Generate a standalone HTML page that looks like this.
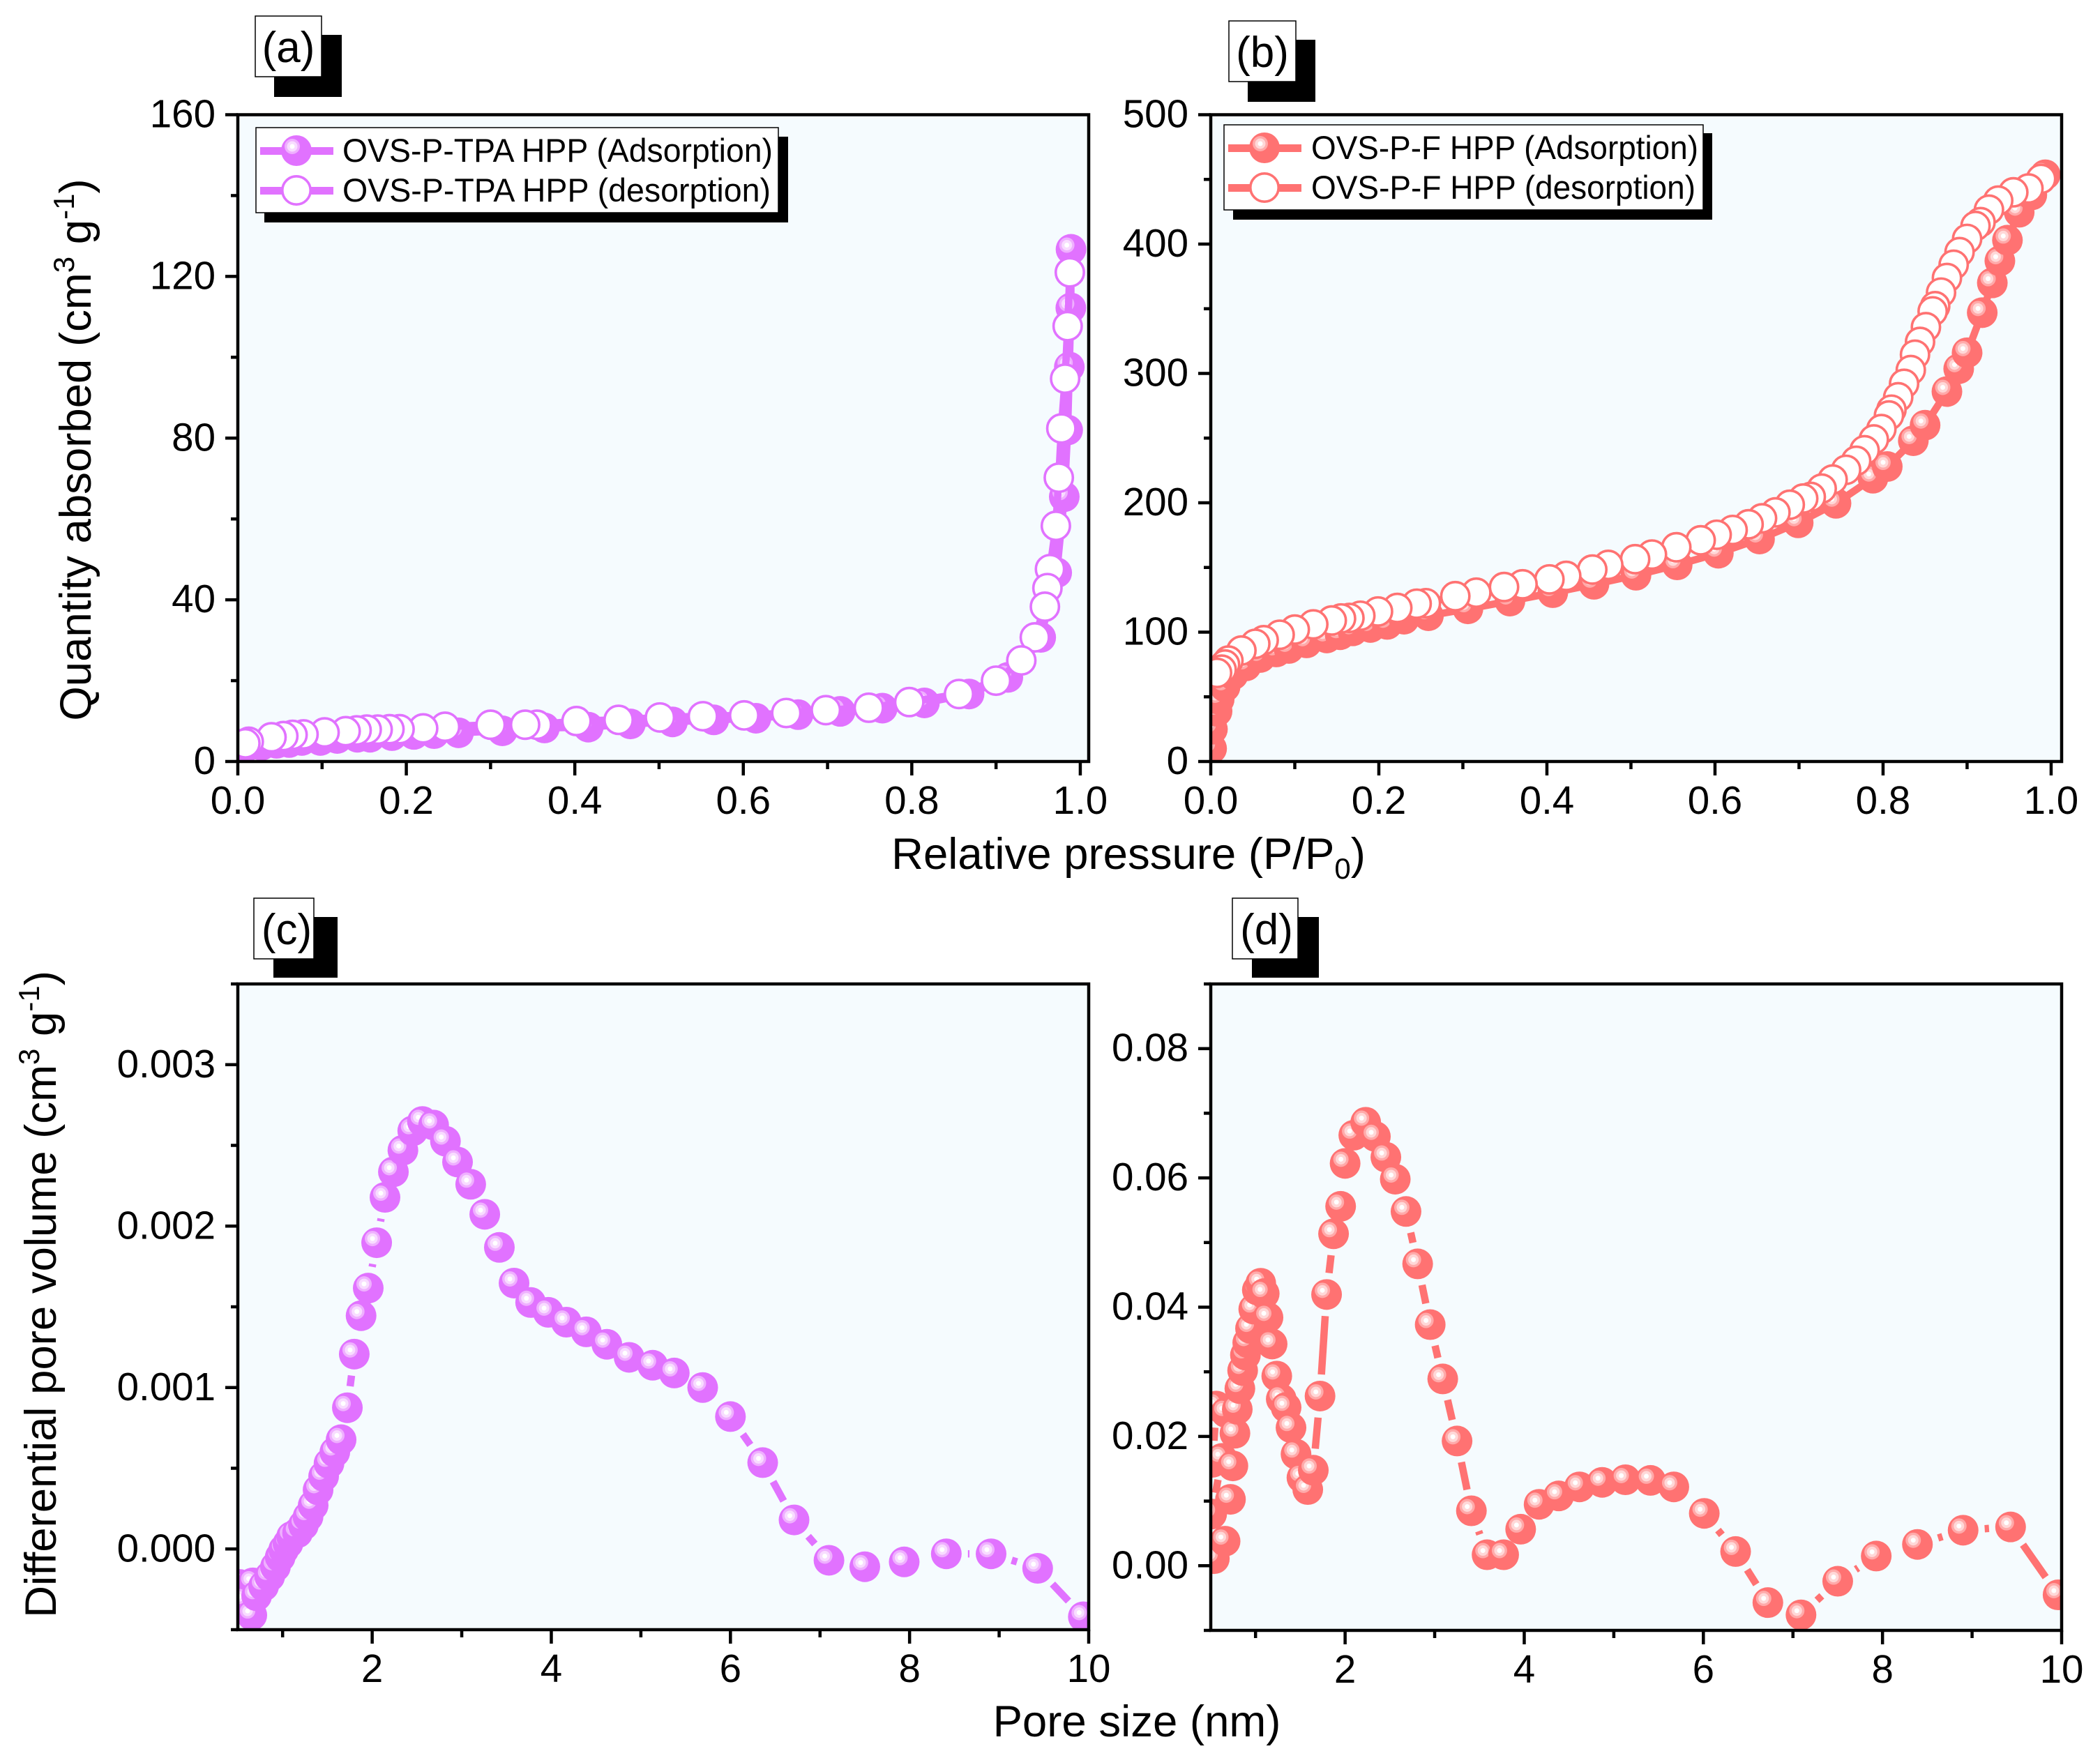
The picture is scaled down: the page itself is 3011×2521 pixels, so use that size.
<!DOCTYPE html>
<html lang="en">
<head>
<meta charset="utf-8">
<title>Gas sorption isotherms and pore size distributions</title>
<style>
html,body{margin:0;padding:0;background:#fff;width:3011px;height:2521px;overflow:hidden}
svg{display:block}
text{font-family:"Liberation Sans",Arial,sans-serif;fill:#000}
.tick{font-size:56.5px}
.title{font-size:63.5px}
.leg{font-size:47px}
.tag{font-size:62px}
</style>
</head>
<body>
<svg id="figure" xmlns="http://www.w3.org/2000/svg" width="3011" height="2521" viewBox="0 0 3011 2521">
  <rect x="0" y="0" width="3011" height="2521" fill="#fff"/>
  <g id="panels"></g>

  <g>
    <rect x="393" y="50" width="97" height="89" fill="#000"/>
    <rect x="366" y="23" width="95" height="87" fill="#fff" stroke="#000" stroke-width="1.5"/>
    <text class="tag" x="413.5" y="89" text-anchor="middle">(a)</text>
  </g>
  <g>
    <rect x="1789" y="57" width="97" height="89" fill="#000"/>
    <rect x="1762" y="30" width="96" height="87" fill="#fff" stroke="#000" stroke-width="1.5"/>
    <text class="tag" x="1810" y="96" text-anchor="middle">(b)</text>
  </g>
  <g>
    <rect x="392" y="1315" width="92" height="87" fill="#000"/>
    <rect x="364" y="1288" width="86" height="87" fill="#fff" stroke="#000" stroke-width="1.5"/>
    <text class="tag" x="411" y="1354" text-anchor="middle">(c)</text>
  </g>
  <g>
    <rect x="1795" y="1315" width="96" height="87" fill="#000"/>
    <rect x="1767" y="1288" width="94" height="87" fill="#fff" stroke="#000" stroke-width="1.5"/>
    <text class="tag" x="1816" y="1354" text-anchor="middle">(d)</text>
  </g>

  <g>
    <rect x="379" y="196" width="751" height="123" fill="#000"/>
    <rect x="367" y="183" width="749" height="122" fill="#fff" stroke="#000" stroke-width="1.5"/>
    <rect x="373" y="211" width="105" height="11" fill="#E172FF"/>
    <rect x="373" y="268" width="105" height="11" fill="#E172FF"/>
    <g>
      <circle cx="425" cy="216" r="22" fill="#E172FF"/><circle cx="419" cy="210" r="11" fill="#EFB0FF"/><circle cx="419" cy="210" r="7.5" fill="#F8DCFF"/><circle cx="419" cy="210" r="3.5" fill="#fff"/>
    </g>
    <circle cx="425" cy="273" r="20.2" fill="#fff" stroke="#E172FF" stroke-width="3.6"/>
    <text class="leg" x="491" y="232" textLength="617" lengthAdjust="spacingAndGlyphs">OVS-P-TPA HPP (Adsorption)</text>
    <text class="leg" x="491" y="289" textLength="614" lengthAdjust="spacingAndGlyphs">OVS-P-TPA HPP (desorption)</text>
  </g>
  <g>
    <rect x="1768" y="191" width="687" height="124" fill="#000"/>
    <rect x="1755" y="179" width="687" height="122" fill="#fff" stroke="#000" stroke-width="1.5"/>
    <rect x="1761" y="207" width="105" height="11" fill="#FF7272"/>
    <rect x="1761" y="264" width="105" height="11" fill="#FF7272"/>
    <g>
      <circle cx="1813" cy="212" r="22" fill="#FF7272"/><circle cx="1807" cy="206" r="11" fill="#FFAAAA"/><circle cx="1807" cy="206" r="7.5" fill="#FFD8D8"/><circle cx="1807" cy="206" r="3.5" fill="#fff"/>
    </g>
    <circle cx="1813" cy="269" r="20.2" fill="#fff" stroke="#FF7272" stroke-width="3.6"/>
    <text class="leg" x="1880" y="228" textLength="555" lengthAdjust="spacingAndGlyphs">OVS-P-F HPP (Adsorption)</text>
    <text class="leg" x="1880" y="285" textLength="551" lengthAdjust="spacingAndGlyphs">OVS-P-F HPP (desorption)</text>
  </g>

  <text class="title" transform="translate(130,645) rotate(-90)" text-anchor="middle">Quantity absorbed (cm<tspan font-size="42" dy="-24">3</tspan><tspan dy="24"> g</tspan><tspan font-size="42" dy="-24">-1</tspan><tspan dy="24">)</tspan></text>
  <text class="title" x="1618" y="1246" text-anchor="middle">Relative pressure (P/P<tspan font-size="42" dy="14">0</tspan><tspan dy="-14">)</tspan></text>
  <text class="title" transform="translate(80,1856) rotate(-90)" text-anchor="middle">Differential pore volume (cm<tspan font-size="42" dy="-24">3</tspan><tspan dy="24"> g</tspan><tspan font-size="42" dy="-24">-1</tspan><tspan dy="24">)</tspan></text>
  <text class="title" x="1630" y="2490" text-anchor="middle">Pore size (nm)</text>
</svg>

<script>
// ---------- Panel (a): OVS-P-TPA isotherm ----------
const aAdsorptionP = [0.001,0.002,0.009,0.028,0.046,0.061,0.076,0.098,0.118,0.142,0.157,0.183,0.209,0.233,0.262,0.314,0.364,0.416,0.466,0.516,0.565,0.615,0.665,0.715,0.765,0.815,0.868,0.914,0.953,0.972,0.981,0.985,0.987,0.9888,0.989];
const aAdsorptionQ = [1,2.5,3.5,4,4.5,4.7,5.2,5.2,5.7,6,6,6.4,6.7,6.9,7.1,7.6,8.3,8.5,9.3,9.8,10.3,10.7,11.6,12.4,13.2,14.5,16.7,20.8,30.7,46.7,65.5,82,97.6,112.2,126.7];
const aDesorptionP = [0.9876,0.985,0.982,0.9775,0.9745,0.971,0.964,0.961,0.958,0.946,0.930,0.900,0.856,0.797,0.749,0.698,0.651,0.601,0.552,0.501,0.452,0.402,0.355,0.341,0.300,0.246,0.220,0.192,0.180,0.166,0.153,0.141,0.128,0.103,0.078,0.065,0.054,0.040,0.013,0.009];
const aDesorptionQ = [121,107.7,94.7,82.4,70.2,58.3,47.6,42.9,38.3,30.7,25,20,16.7,14.7,13.3,12.7,12,11.4,11.2,10.9,10.3,10,9.1,9.1,9.1,8.6,8.2,8,8,7.9,7.9,7.7,7.5,7.2,6.7,6.6,6.3,6,4.9,4.5];
const aXTicks = [0,0.2,0.4,0.6,0.8,1.0];
const aXMinor = [0.1,0.3,0.5,0.7,0.9];
const aYTicks = [0,40,80,120,160];
const aYMinor = [20,60,100,140];

// ---------- Panel (b): OVS-P-F isotherm ----------
const bAdsorptionP = [0.001,0.002,0.0075,0.010,0.017,0.0265,0.042,0.059,0.078,0.093,0.114,0.138,0.154,0.169,0.190,0.210,0.230,0.259,0.306,0.356,0.407,0.456,0.506,0.555,0.604,0.653,0.699,0.744,0.788,0.805,0.836,0.850,0.876,0.890,0.900,0.918,0.930,0.939,0.948,0.962,0.977,0.993];
const bAdsorptionQ = [10,25,38.8,48,57.7,67,73.9,80.4,84.7,87.4,91.7,95.5,98,101,103.6,106,110,112.7,118,124,130.5,137,144,152,161,172,184.5,199.6,219,228,248,260,286,303.6,316,347,370,387,403,424.6,438,453.6];
const bDesorptionP = [0.988,0.973,0.955,0.937,0.926,0.916,0.910,0.900,0.891,0.884,0.876,0.869,0.862,0.859,0.851,0.844,0.838,0.833,0.825,0.818,0.810,0.807,0.798,0.789,0.778,0.768,0.756,0.740,0.727,0.714,0.705,0.689,0.672,0.656,0.640,0.621,0.602,0.583,0.554,0.525,0.505,0.473,0.454,0.423,0.403,0.371,0.349,0.316,0.291,0.256,0.245,0.222,0.199,0.178,0.165,0.155,0.144,0.122,0.100,0.082,0.063,0.053,0.0365,0.021,0.017,0.013,0.0075];
const bDesorptionQ = [450.4,443,440,433.6,426.6,417,414,404,393.8,384,373.8,362.5,352,348,335.8,324.4,314.5,302.6,292,281.6,272,267.5,257,249,240.6,232.5,225.5,218,211,204.6,203.3,198.5,192.6,188,183.4,179,175.3,171,165.6,160,156.4,152,148.4,143.5,140.8,137,134.9,130.5,127.8,122.4,122,118.7,116,112.7,111,110.6,109,106,102,98,93.8,91,85.8,78,75,71,68.5];
const bXTicks = [0,0.2,0.4,0.6,0.8,1.0];
const bXMinor = [0.1,0.3,0.5,0.7,0.9];
const bYTicks = [0,100,200,300,400,500];
const bYMinor = [50,150,250,350,450];

// ---------- Panel (c): OVS-P-TPA pore size ----------
const cPoreSize = [0.52,0.668,0.56,0.656,0.71,0.788,0.856,0.92,0.973,1.012,1.06,1.10,1.167,1.232,1.284,1.341,1.396,1.458,1.518,1.583,1.653,1.723,1.80,1.876,1.956,2.05,2.143,2.237,2.343,2.453,2.561,2.686,2.818,2.953,3.10,3.257,3.42,3.584,3.769,3.966,4.168,4.39,4.62,4.869,5.132,5.373,5.69,6.0,6.36,6.71,7.1,7.5,7.94,8.41,8.91,9.43,9.94];
const cPoreVolume = [-0.00022,-0.00021,-0.00032,-0.00041,-0.00029,-0.00023,-0.00017,-0.00011,-0.00005,-0.000004,0.000034,0.000077,0.0001,0.000147,0.0002,0.00027,0.000366,0.00045,0.00053,0.0006,0.000677,0.000875,0.001207,0.001445,0.001616,0.001897,0.002178,0.002336,0.00247,0.00259,0.002648,0.002626,0.002526,0.002397,0.002259,0.002073,0.001868,0.001647,0.001527,0.001466,0.001405,0.001345,0.001268,0.001187,0.001138,0.00109,0.001,0.00082,0.000535,0.00018,-0.00007,-0.00011,-0.00008,-0.00003,-0.00003,-0.00012,-0.00042];
const cXTicks = [2,4,6,8,10];
const cXMinor = [1,3,5,7,9];
const cYTicks = [0,0.001,0.002,0.003];
const cYMinor = [-0.0005,0.0005,0.0015,0.0025,0.0035];

// ---------- Panel (d): OVS-P-F pore size ----------
const dPoreSize = [0.52,0.562,0.67,0.625,0.51,0.54,0.66,0.72,0.747,0.77,0.796,0.825,0.856,0.887,0.913,0.944,0.98,1.02,1.058,1.097,1.139,1.185,1.237,1.287,1.341,1.396,1.452,1.518,1.583,1.645,1.72,1.793,1.871,1.95,2.0,2.097,2.23,2.338,2.455,2.56,2.68,2.81,2.95,3.09,3.25,3.41,3.585,3.77,3.96,4.166,4.385,4.617,4.87,5.13,5.41,5.67,6.01,6.36,6.72,7.09,7.5,7.93,8.39,8.9,9.43,9.96];
const dPoreVolume = [0.016,0.0247,0.0237,0.0166,0.008,0.0011,0.0038,0.01027,0.01545,0.0205,0.0242,0.0274,0.0302,0.0326,0.0345,0.0367,0.0397,0.04265,0.0437,0.0421,0.0384,0.0343,0.02934,0.02579,0.02449,0.02136,0.01726,0.01362,0.01179,0.01478,0.02625,0.04196,0.05135,0.0556,0.06224,0.0666,0.0686,0.0664,0.0632,0.0598,0.0548,0.0467,0.0373,0.0289,0.0193,0.0085,0.0017,0.0017,0.00565,0.0095,0.0108,0.0122,0.0129,0.0133,0.0132,0.0122,0.0081,0.0022,-0.0057,-0.0076,-0.0024,0.0015,0.0033,0.0055,0.006,-0.0045];
const dXTicks = [2,4,6,8,10];
const dXMinor = [1,3,5,7,9];
const dYTicks = [0,0.02,0.04,0.06,0.08];
const dYMinor = [-0.01,0.01,0.03,0.05,0.07,0.09];

const NS = 'http://www.w3.org/2000/svg';
const PURPLE = {main:'#E172FF', ring1:'#EFB0FF', ring2:'#F8DCFF'};
const RED = {main:'#FF7272', ring1:'#FFAAAA', ring2:'#FFD8D8'};
const MARKER_R = 22;

function shape(tag, attrs, parent) {
  const node = document.createElementNS(NS, tag);
  for (const key in attrs) node.setAttribute(key, attrs[key]);
  parent.appendChild(node);
  return node;
}

function scale(domainMin, domainMax, pixelMin, pixelMax) {
  return function (v) {
    return pixelMin + (v - domainMin) * (pixelMax - pixelMin) / (domainMax - domainMin);
  };
}

function drawLine(xs, ys, sx, sy, color, gap, group, name) {
  for (let i = 0; i + 1 < xs.length; i++) {
    let x1 = sx(xs[i]), y1 = sy(ys[i]), x2 = sx(xs[i + 1]), y2 = sy(ys[i + 1]);
    const len = Math.hypot(x2 - x1, y2 - y1);
    if (gap > 0) {
      if (len <= 2 * gap) continue;
      const ux = (x2 - x1) / len, uy = (y2 - y1) / len;
      x1 += ux * gap; y1 += uy * gap; x2 -= ux * gap; y2 -= uy * gap;
    }
    const seg = shape('line', {x1: x1, y1: y1, x2: x2, y2: y2, stroke: color, 'stroke-width': 10.5}, group);
    
    
  }
}

function drawSphere(x, y, palette, group, name) {
  const g = shape('g', {}, group);
  
  
  shape('circle', {cx: x, cy: y, r: MARKER_R, fill: palette.main}, g);
  shape('circle', {cx: x - 6, cy: y - 6, r: 11, fill: palette.ring1}, g);
  shape('circle', {cx: x - 6, cy: y - 6, r: 7.5, fill: palette.ring2}, g);
  shape('circle', {cx: x - 6, cy: y - 6, r: 3.5, fill: '#fff'}, g);
}

function drawOpen(x, y, palette, group, name) {
  const c = shape('circle', {cx: x, cy: y, r: MARKER_R - 1.8, fill: '#fff', stroke: palette.main, 'stroke-width': 3.6}, group);
  
  
}

function drawPanel(p) {
  const root = document.getElementById('panels');
  const g = shape('g', {}, root);
  
  

  const sx = scale(p.xMin, p.xMax, p.left, p.right);
  const sy = scale(p.yMin, p.yMax, p.bottom, p.top);

  const bg = shape('rect', {x: p.left, y: p.top, width: p.right - p.left, height: p.bottom - p.top, fill: '#F5FBFE'}, g);
  
  

  const clip = shape('clipPath', {id: 'clip-' + p.id}, g);
  shape('rect', {x: p.left, y: p.top, width: p.right - p.left, height: p.bottom - p.top}, clip);

  const plot = shape('g', {'clip-path': 'url(#clip-' + p.id + ')'}, g);
  
  

  p.series.forEach(function (s) {
    const sg = shape('g', {}, plot);
    
    
    drawLine(s.x, s.y, sx, sy, s.palette.main, s.gap, sg, s.name);
    s.x.forEach(function (v, i) {
      if (s.open) drawOpen(sx(v), sy(s.y[i]), s.palette, sg, s.name);
      else drawSphere(sx(v), sy(s.y[i]), s.palette, sg, s.name);
    });
  });

  const frame = shape('rect', {x: p.left, y: p.top, width: p.right - p.left, height: p.bottom - p.top, fill: 'none', stroke: '#000', 'stroke-width': 4.5}, g);
  
  

  p.xTicks.forEach(function (v) {
    const tick = shape('line', {x1: sx(v), x2: sx(v), y1: p.bottom, y2: p.bottom + 20, stroke: '#000', 'stroke-width': 4.5}, g);
    
    
    const label = shape('text', {x: sx(v), y: p.bottom + 75, class: 'tick', 'text-anchor': 'middle'}, g);
    label.textContent = v.toFixed(p.xDigits);
    
    
  });
  p.xMinor.forEach(function (v) {
    const tick = shape('line', {x1: sx(v), x2: sx(v), y1: p.bottom, y2: p.bottom + 11, stroke: '#000', 'stroke-width': 4.5}, g);
    
    
  });
  p.yTicks.forEach(function (v) {
    const tick = shape('line', {x1: p.left - 18, x2: p.left, y1: sy(v), y2: sy(v), stroke: '#000', 'stroke-width': 4.5}, g);
    
    
    const label = shape('text', {x: p.left - 32, y: sy(v) + 18, class: 'tick', 'text-anchor': 'end'}, g);
    label.textContent = v.toFixed(p.yDigits);
    
    
  });
  p.yMinor.forEach(function (v) {
    const tick = shape('line', {x1: p.left - 10, x2: p.left, y1: sy(v), y2: sy(v), stroke: '#000', 'stroke-width': 4.5}, g);
    
    
  });
}

drawPanel({
  id: 'a', left: 341, right: 1561, top: 164.5, bottom: 1092,
  xMin: 0, xMax: 1.01, yMin: 0, yMax: 160, xDigits: 1, yDigits: 0,
  xTicks: aXTicks, xMinor: aXMinor, yTicks: aYTicks, yMinor: aYMinor,
  series: [
    {name: 'ovs-p-tpa-adsorption', x: aAdsorptionP, y: aAdsorptionQ, palette: PURPLE, open: false, gap: 0},
    {name: 'ovs-p-tpa-desorption', x: aDesorptionP, y: aDesorptionQ, palette: PURPLE, open: true, gap: 0}
  ]
});
drawPanel({
  id: 'b', left: 1736, right: 2956, top: 164.5, bottom: 1092,
  xMin: 0, xMax: 1.0125, yMin: 0, yMax: 500, xDigits: 1, yDigits: 0,
  xTicks: bXTicks, xMinor: bXMinor, yTicks: bYTicks, yMinor: bYMinor,
  series: [
    {name: 'ovs-p-f-adsorption', x: bAdsorptionP, y: bAdsorptionQ, palette: RED, open: false, gap: 0},
    {name: 'ovs-p-f-desorption', x: bDesorptionP, y: bDesorptionQ, palette: RED, open: true, gap: 0}
  ]
});
drawPanel({
  id: 'c', left: 341, right: 1561, top: 1411, bottom: 2337,
  xMin: 0.5, xMax: 10, yMin: -0.0005, yMax: 0.0035, xDigits: 0, yDigits: 3,
  xTicks: cXTicks, xMinor: cXMinor, yTicks: cYTicks, yMinor: cYMinor,
  series: [
    {name: 'ovs-p-tpa-pore-size', x: cPoreSize, y: cPoreVolume, palette: PURPLE, open: false, gap: 31}
  ]
});
drawPanel({
  id: 'd', left: 1736, right: 2956, top: 1411, bottom: 2338,
  xMin: 0.5, xMax: 10, yMin: -0.01, yMax: 0.09, xDigits: 0, yDigits: 2,
  xTicks: dXTicks, xMinor: dXMinor, yTicks: dYTicks, yMinor: dYMinor,
  series: [
    {name: 'ovs-p-f-pore-size', x: dPoreSize, y: dPoreVolume, palette: RED, open: false, gap: 31}
  ]
});
</script>
</body>
</html>
